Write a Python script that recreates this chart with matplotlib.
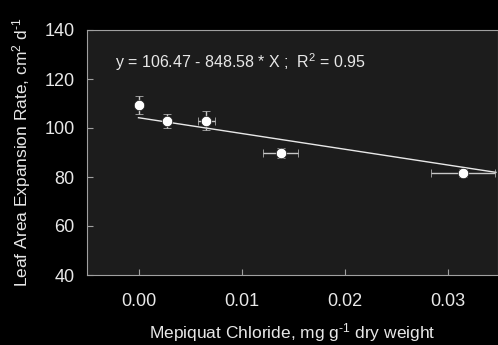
import matplotlib
matplotlib.use("Agg")
import matplotlib.pyplot as plt

plt.rcParams["font.family"] = ["Liberation Sans", "DejaVu Sans"]
plt.rcParams["mathtext.fontset"] = "custom"
plt.rcParams["mathtext.rm"] = "Liberation Sans"
plt.rcParams["mathtext.default"] = "regular"

# measured points
dose = [0.0, 0.0028, 0.0066, 0.0138, 0.0315]
dose_err = [0.0, 0.0003, 0.0008, 0.0017, 0.0031]
rate = [109.4, 102.9, 103.0, 89.8, 81.6]
rate_err = [3.5, 3.0, 4.0, 2.0, 1.5]

# fitted line as drawn
fit_x = [0.0, 0.0347]
fit_y = [104.2, 81.9]

fg = "#e8e8e8"

fig = plt.figure(figsize=(4.98, 3.45), dpi=100, facecolor="black")
ax = fig.add_axes([87 / 498, 70 / 345, 411 / 498, 245 / 345])
ax.set_facecolor("#1c1c1c")

ax.plot(fit_x, fit_y, color=fg, lw=1)
ax.errorbar(dose, rate, xerr=dose_err, yerr=rate_err, fmt="o", color="white",
            ms=7.5, mec="#1c1c1c", mew=0.5, ecolor="#c8c8c8", elinewidth=1,
            capsize=3, capthick=1)

ax.set_xlim(-0.005, 0.0349)
ax.set_ylim(40, 140)
ax.set_xticks([0.0, 0.01, 0.02, 0.03])
ax.set_xticklabels(["0.00", "0.01", "0.02", "0.03"])
ax.set_yticks([40, 60, 80, 100, 120, 140])

for s in ax.spines.values():
    s.set_color("#a0a0a0")
ax.tick_params(direction="in", length=4, color="#a0a0a0", labelcolor=fg,
               labelsize=13)
ax.tick_params(axis="x", pad=13)
ax.tick_params(axis="y", pad=9)

ax.set_xlabel("Mepiquat Chloride, mg g$^{\\text{-1}}$ dry weight", color=fg,
              fontsize=12.5, labelpad=8)
ax.set_ylabel("Leaf Area Expansion Rate, cm$^{2}$ d$^{\\text{-1}}$", color=fg,
              fontsize=12.5, labelpad=8)

ax.text(-0.0023, 127, "y = 106.47 - 848.58 * X ;  R$^{2}$ = 0.95", color=fg,
        fontsize=11.5, ha="left", va="center")

fig.savefig("out.png", dpi=100, facecolor="black")
